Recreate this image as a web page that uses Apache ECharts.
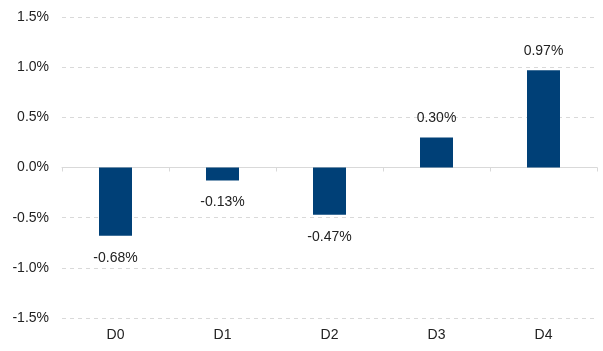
<!DOCTYPE html>
<html>
<head>
<meta charset="utf-8">
<script src="https://cdn.jsdelivr.net/npm/echarts@6/dist/echarts.min.js"></script>
<style>
  html, body { margin: 0; padding: 0; background: #fff; }
  #chart { width: 603px; height: 351px; }
</style>
</head>
<body>
<div id="chart"></div>
<script>
  // categories and values (percent)
  const categories = ['D0', 'D1', 'D2', 'D3', 'D4'];
  const values = [-0.68, -0.13, -0.47, 0.30, 0.97];

  const textFont = { fontFamily: 'Liberation Sans, Arial, sans-serif', fontSize: 14, color: '#222' };

  const myChart = echarts.init(document.getElementById('chart'));

  const option = {
    backgroundColor: '#fff',
    animation: false,
    grid: { left: 62, right: 6, top: 17, bottom: 33 },
    xAxis: [
      {
        // bottom axis: labels only
        type: 'category',
        data: categories,
        position: 'bottom',
        axisLine: { show: false, onZero: false },
        axisTick: { show: false },
        axisLabel: Object.assign({ margin: 10 }, textFont),
        splitLine: { show: false }
      },
      {
        // zero line with ticks between categories
        type: 'category',
        data: categories,
        position: 'bottom',
        axisLine: { show: true, onZero: true, lineStyle: { color: '#d9d9d9', width: 1 } },
        axisTick: { show: true, length: 4, lineStyle: { color: '#d9d9d9' } },
        axisLabel: { show: false },
        splitLine: { show: false }
      }
    ],
    yAxis: {
      type: 'value',
      min: -1.5,
      max: 1.5,
      interval: 0.5,
      axisLine: { show: false },
      axisTick: { show: false },
      axisLabel: Object.assign({
        margin: 13,
        formatter: v => v.toFixed(1) + '%'
      }, textFont),
      splitLine: { lineStyle: { color: '#d9d9d9', type: [4, 4], width: 1 } }
    },
    series: [
      {
        type: 'bar',
        xAxisIndex: 0,
        // negative bars put their label below
        data: values.map(v => ({
          value: v,
          label: v < 0 ? { position: 'bottom', distance: 15 } : { position: 'top', distance: 12 }
        })),
        barWidth: 33,
        itemStyle: { color: '#004077' },
        label: Object.assign({
          show: true,
          formatter: p => p.value.toFixed(2) + '%'
        }, textFont)
      }
    ]
  };

  myChart.setOption(option);
</script>
</body>
</html>
